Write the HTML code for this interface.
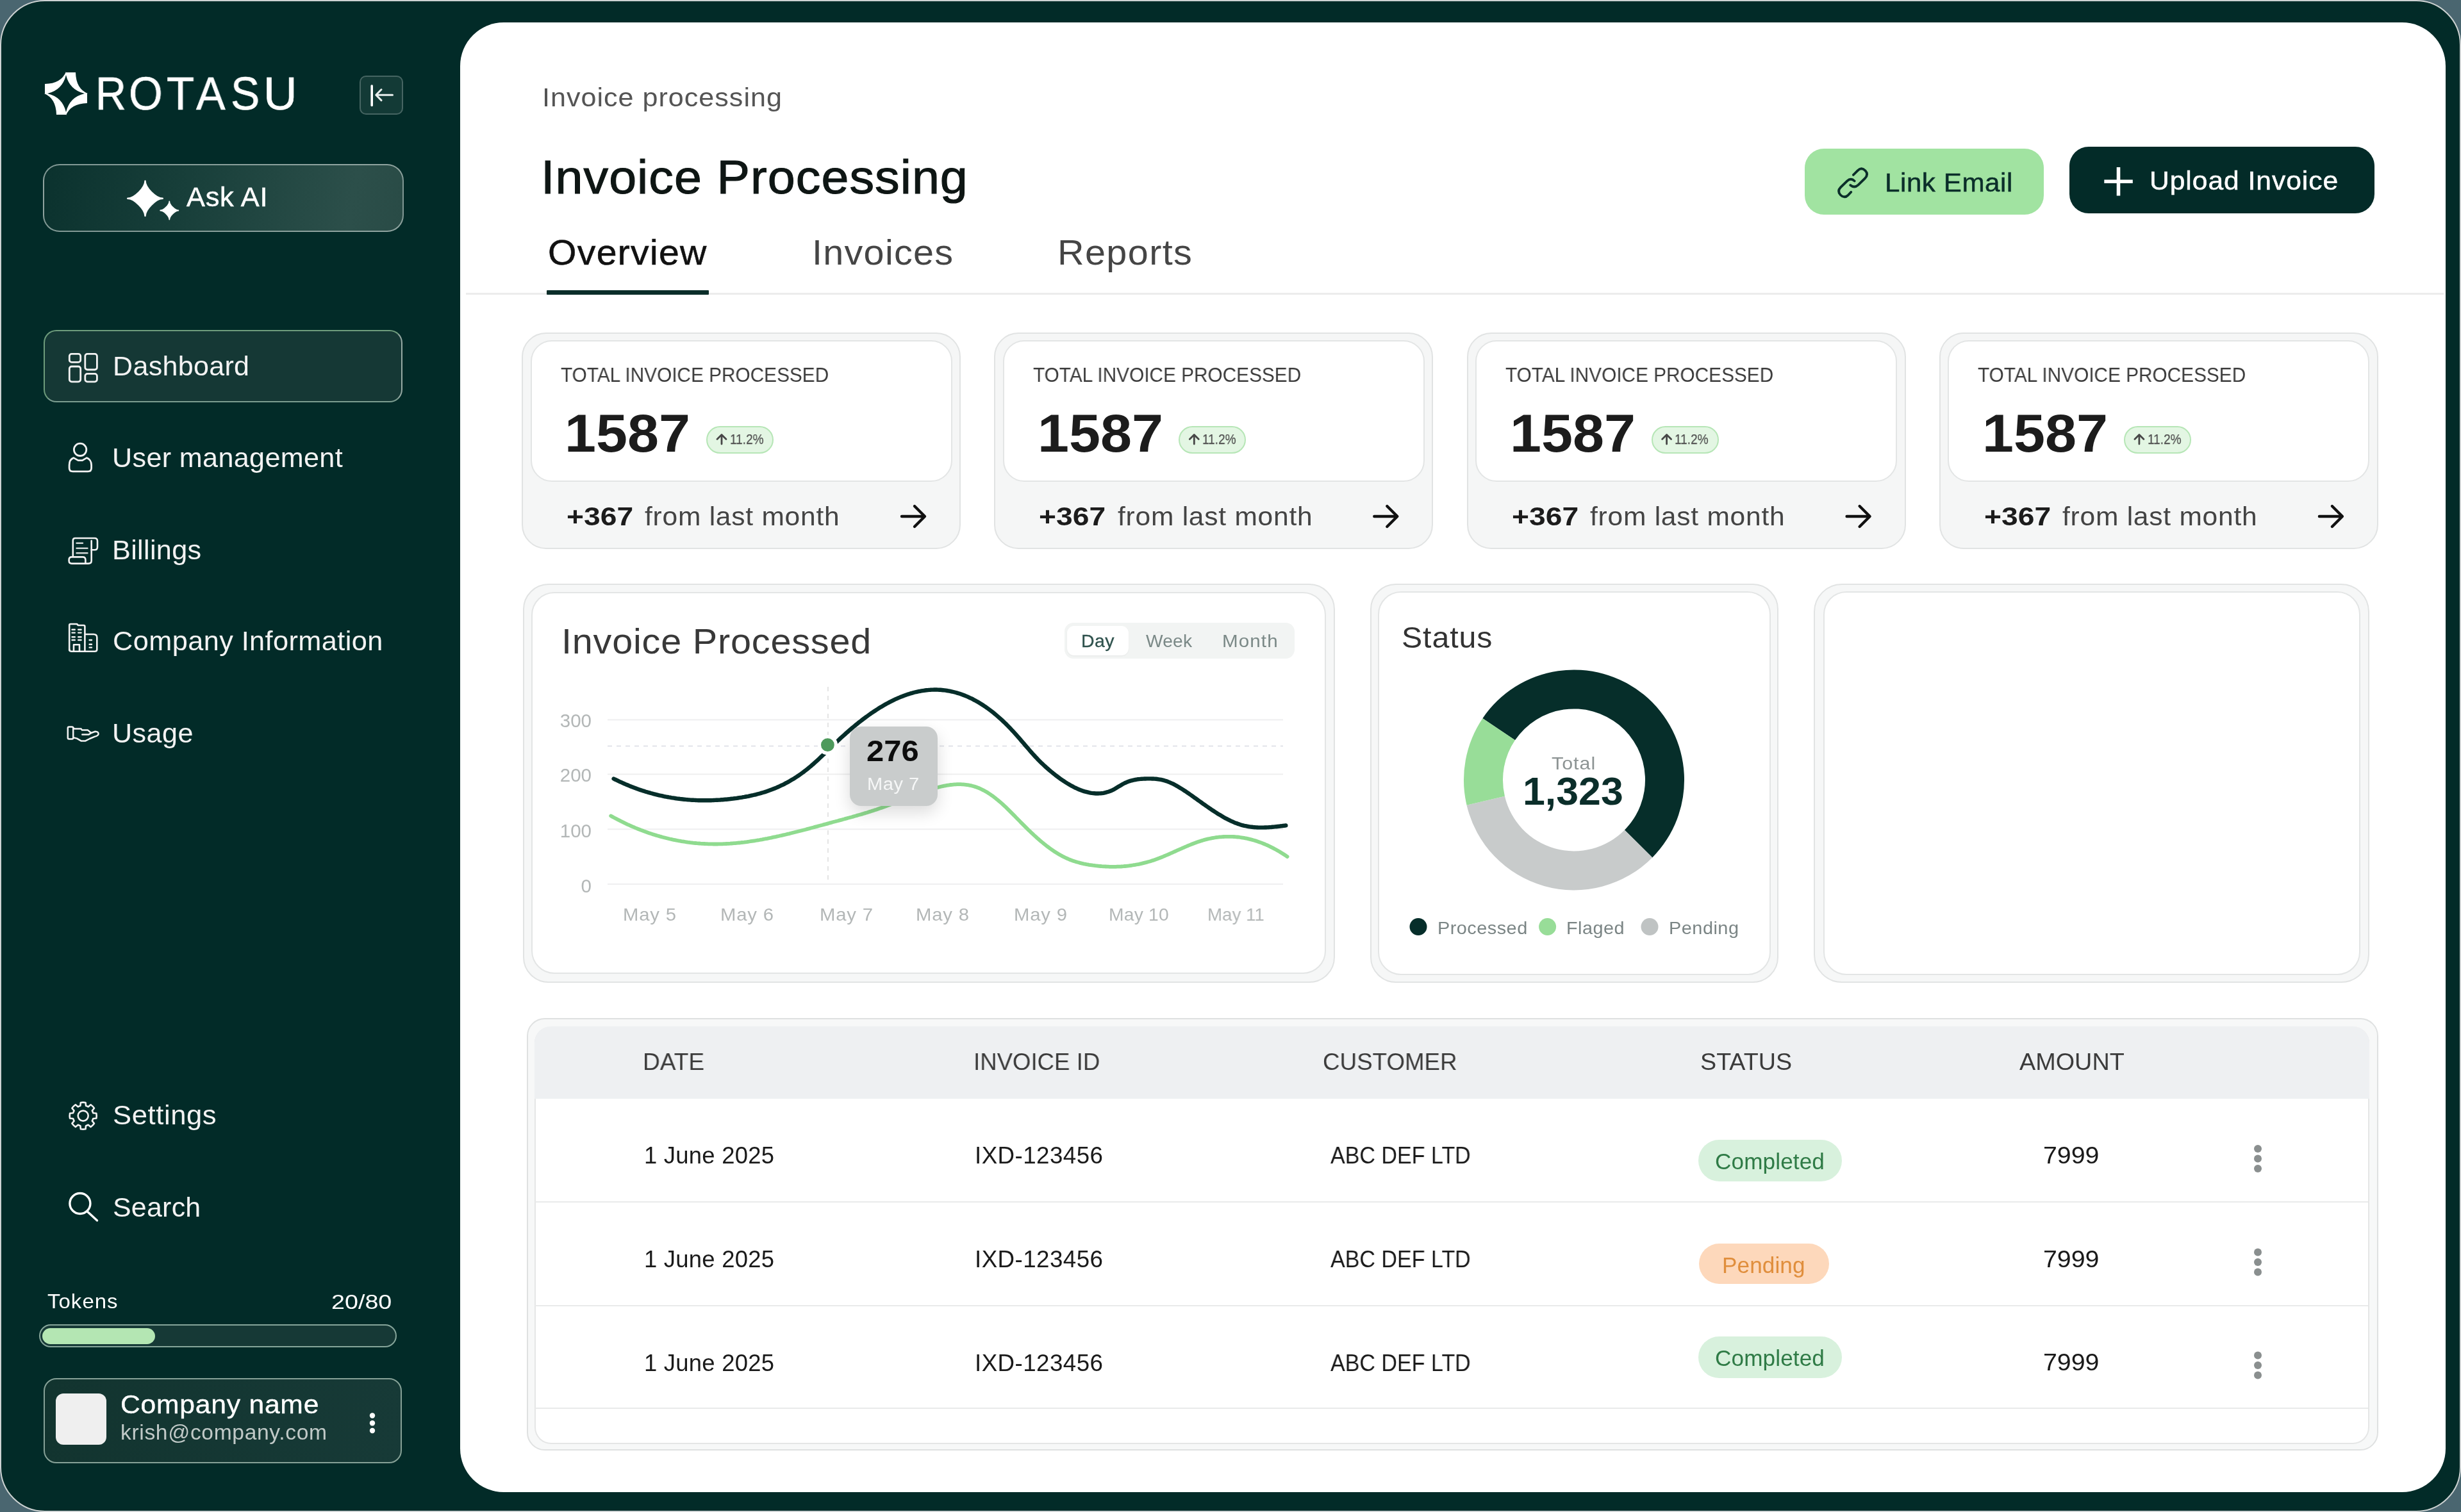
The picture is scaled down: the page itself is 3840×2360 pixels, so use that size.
<!DOCTYPE html>
<html><head><meta charset="utf-8"><style>
*{margin:0;padding:0;box-sizing:border-box}
html,body{width:3840px;height:2360px;overflow:hidden;background:#4a6670;font-family:"Liberation Sans", sans-serif}
div,span,svg{position:absolute}
.t{white-space:nowrap;line-height:1;will-change:transform}
</style></head><body>
<div style="left:0px;top:0px;width:3840px;height:2360px;border-radius:70px;background:#022b28;border:2px solid #cdd2d2"></div>
<div style="left:718px;top:35px;width:3098px;height:2294px;border-radius:68px;background:#fff"></div>
<div style="left:561px;top:118px;width:68px;height:61px;border-radius:10px;background:#133a36;border:2px solid rgba(255,255,255,0.22)"></div>
<div style="left:67px;top:256px;width:563px;height:106px;border-radius:26px;border:2px solid rgba(225,235,232,0.55);background:linear-gradient(100deg,#0b322e 0%,#183f3a 40%,#2c4f4a 85%,#294b46 100%)"></div>
<div style="left:68px;top:515px;width:559.5px;height:113px;border-radius:20px;border:2px solid #7c9d90;border-top-color:#6e9c7c;border-left-color:#6e9c7c;border-right-color:#97aaa4;background:#153835"></div>
<div style="left:61px;top:2067px;width:558px;height:36px;border-radius:18px;border:2.5px solid #86a59a;background:#163936"></div>
<div style="left:65.5px;top:2073px;width:176.5px;height:25px;border-radius:13px;background:#b4e6b3"></div>
<div style="left:68px;top:2151px;width:559px;height:133px;border-radius:20px;border:2.5px solid #86a197;background:linear-gradient(100deg,#12342f,#173a37)"></div>
<div style="left:87px;top:2175px;width:79px;height:80px;border-radius:12px;background:#efefef"></div>
<div style="left:2816px;top:232px;width:373px;height:103px;border-radius:30px;background:#a1e3a1"></div>
<div style="left:3229px;top:229px;width:476px;height:104px;border-radius:30px;background:#032b28"></div>
<div style="left:727px;top:457px;width:3086px;height:3px;background:#ececec"></div>
<div style="left:853px;top:453px;width:253px;height:7px;background:#0b2e2a;border-radius:1px"></div>
<div style="left:814.0px;top:519px;width:685px;height:338px;border-radius:38px;background:#f5f6f6;border:2px solid #e1e3e3"></div>
<div style="left:827.5px;top:530.5px;width:658px;height:221px;border-radius:33px;background:#fff;border:2px solid #e3e5e5"></div>
<div style="left:1102.0px;top:664.5px;width:105px;height:43px;border-radius:22px;background:#e3f6e3;border:2px solid #b6e6b6"></div>
<div style="left:1551.3px;top:519px;width:685px;height:338px;border-radius:38px;background:#f5f6f6;border:2px solid #e1e3e3"></div>
<div style="left:1564.8px;top:530.5px;width:658px;height:221px;border-radius:33px;background:#fff;border:2px solid #e3e5e5"></div>
<div style="left:1839.3px;top:664.5px;width:105px;height:43px;border-radius:22px;background:#e3f6e3;border:2px solid #b6e6b6"></div>
<div style="left:2288.6px;top:519px;width:685px;height:338px;border-radius:38px;background:#f5f6f6;border:2px solid #e1e3e3"></div>
<div style="left:2302.1px;top:530.5px;width:658px;height:221px;border-radius:33px;background:#fff;border:2px solid #e3e5e5"></div>
<div style="left:2576.6px;top:664.5px;width:105px;height:43px;border-radius:22px;background:#e3f6e3;border:2px solid #b6e6b6"></div>
<div style="left:3025.8999999999996px;top:519px;width:685px;height:338px;border-radius:38px;background:#f5f6f6;border:2px solid #e1e3e3"></div>
<div style="left:3039.3999999999996px;top:530.5px;width:658px;height:221px;border-radius:33px;background:#fff;border:2px solid #e3e5e5"></div>
<div style="left:3313.8999999999996px;top:664.5px;width:105px;height:43px;border-radius:22px;background:#e3f6e3;border:2px solid #b6e6b6"></div>
<div style="left:816px;top:911px;width:1267px;height:623px;border-radius:40px;background:#f6f7f7;border:2px solid #e1e3e3"></div>
<div style="left:829px;top:924px;width:1240px;height:596px;border-radius:36px;background:#fff;border:2px solid #e3e5e5"></div>
<div style="left:1661px;top:972px;width:359px;height:56px;border-radius:14px;background:#f2f4f3"></div>
<div style="left:1665px;top:977px;width:96px;height:46px;border-radius:11px;background:#fff;box-shadow:0 1px 2px rgba(0,0,0,0.05)"></div>
<div style="left:2137.5px;top:911px;width:637px;height:623px;border-radius:40px;background:#f6f7f7;border:2px solid #e1e3e3"></div>
<div style="left:2150px;top:923px;width:613px;height:599px;border-radius:36px;background:#fff;border:2px solid #e3e5e5"></div>
<div style="left:2830px;top:911px;width:867px;height:623px;border-radius:44px;background:#f6f7f7;border:2px solid #e1e3e3"></div>
<div style="left:2844.5px;top:923px;width:838.5px;height:599px;border-radius:36px;background:#fff;border:2px solid #e3e5e5"></div>
<div style="left:821.5px;top:1588.5px;width:2889.5px;height:675.5px;border-radius:28px;background:#f7f8f8;border:2px solid #dfe1e1"></div>
<div style="left:833.5px;top:1601.5px;width:2863.5px;height:652.5px;border-radius:26px;background:#fff;border:2px solid #e5e6e6;border-top:none;overflow:hidden"></div>
<div style="left:833.5px;top:1601.5px;width:2863.5px;height:113.5px;border-radius:26px 26px 0 0;background:#eef0f2"></div>
<div style="left:835px;top:1874.5px;width:2860px;height:2px;background:#e9eaea"></div>
<div style="left:835px;top:2036.5px;width:2860px;height:2px;background:#e9eaea"></div>
<div style="left:835px;top:2196.5px;width:2860px;height:2px;background:#e9eaea"></div>
<div style="left:2650px;top:1779px;width:224px;height:65px;border-radius:33px;background:#d8f1dd"></div>
<div style="left:2651px;top:1941px;width:203px;height:63px;border-radius:32px;background:#fdd8bb"></div>
<div style="left:2650px;top:2086px;width:224px;height:65px;border-radius:33px;background:#d8f1dd"></div>
<svg width="3840" height="2360" viewBox="0 0 3840 2360" style="left:0;top:0"><path d="M103.00,113.00 L118.00,113.00 Q118.50,138.50 137.00,146.00 L132.00,146.00 Q108.50,140.50 103.00,117.00 Z M136.00,146.00 L136.00,161.00 Q110.50,161.50 103.00,180.00 L103.00,175.00 Q108.50,151.50 132.00,146.00 Z M103.00,179.00 L88.00,179.00 Q87.50,153.50 69.00,146.00 L74.00,146.00 Q97.50,151.50 103.00,175.00 Z M70.00,146.00 L70.00,131.00 Q95.50,130.50 103.00,112.00 L103.00,117.00 Q97.50,140.50 74.00,146.00 Z" fill="#fff"/><path d="M580.2,134 V164.5" stroke="#fff" stroke-width="3.6" stroke-linecap="round" fill="none"/><path d="M595,139.8 L586.7,148.2 L595,156.6 M587.5,148.3 H612.5" stroke="#e9eeed" stroke-width="3" stroke-linecap="round" stroke-linejoin="round" fill="none"/><path d="M226.5,282.5 C226.5,292.874 243.426,309.8 253.8,309.8 C243.426,309.8 226.5,326.726 226.5,337.1 C226.5,326.726 209.574,309.8 199.2,309.8 C209.574,309.8 226.5,292.874 226.5,282.5 Z" fill="#fff" stroke="#fff" stroke-width="2.4" stroke-linejoin="round"/><path d="M264.3,314.4 C264.3,319.758 273.04200000000003,328.5 278.40000000000003,328.5 C273.04200000000003,328.5 264.3,337.242 264.3,342.6 C264.3,337.242 255.55800000000002,328.5 250.20000000000002,328.5 C255.55800000000002,328.5 264.3,319.758 264.3,314.4 Z" fill="#fff" stroke="#fff" stroke-width="1.8" stroke-linejoin="round"/><rect x="108.3" y="552.4" width="17.4" height="13" rx="3.5" stroke="#f2f2f2" stroke-width="2.8" fill="none"/><rect x="108.3" y="572" width="17.4" height="23.8" rx="3.5" stroke="#f2f2f2" stroke-width="2.8" fill="none"/><rect x="132.8" y="552.4" width="18.6" height="24.6" rx="3.5" stroke="#f2f2f2" stroke-width="2.8" fill="none"/><rect x="132.8" y="583.4" width="18.6" height="12.4" rx="3.5" stroke="#f2f2f2" stroke-width="2.8" fill="none"/><circle cx="125.1" cy="701.8" r="9.7" stroke="#f2f2f2" stroke-width="2.8" fill="none" stroke-linejoin="round"/><path d="M114.9,714.6 L122,718.6 H128.5 L135.3,714.6 C139.5,716 142.6,720.5 142.6,726 V730.5 Q142.6,735.9 137.2,735.9 H113.5 Q108.1,735.9 108.1,730.5 V726 C108.1,720.5 110.8,716 114.9,714.6 Z" stroke="#f2f2f2" stroke-width="2.8" fill="none" stroke-linejoin="round"/><path d="M113.8,868 V843.5 Q113.8,840 117.3,840 H147.5 Q152,840 152,844.5 V854 Q152,858.3 147.7,858.3 H142.7" stroke="#f2f2f2" stroke-width="2.6" fill="none" stroke-linejoin="round" stroke-linecap="round"/><path d="M142.7,844 V875 Q142.7,879.6 138,879.6 H112 Q107.6,879.6 107.6,875 V874 Q107.6,869.4 112,869.4 H129 Q133.4,869.4 133.4,874 V879.6" stroke="#f2f2f2" stroke-width="2.6" fill="none" stroke-linejoin="round" stroke-linecap="round"/><path d="M119.5,847.7 H129 M119.5,855.8 H136.5 M119.5,863.2 H136.5" stroke="#cfd6d4" stroke-width="2.4" stroke-linecap="round"/><path d="M108.2,1015 V976 Q108.2,974 110.2,974 H120 L122,976 H130.5 Q132.4,976 132.4,978 V1016.8" stroke="#f2f2f2" stroke-width="2.6" fill="none" stroke-linejoin="round" stroke-linecap="round"/><path d="M133,990 H146 Q151.3,990 151.3,995 V1013.5 Q151.3,1016.8 148,1016.8 H111.5 Q108.2,1016.8 108.2,1013.5" stroke="#f2f2f2" stroke-width="2.6" fill="none" stroke-linejoin="round" stroke-linecap="round"/><path d="M115,1016.8 V1006.3 H124 V1016.8" stroke="#f2f2f2" stroke-width="2.6" fill="none" stroke-linejoin="round" stroke-linecap="round"/><path d="M112.5,982.8 H116.8 M122.2,982.8 H126.6 M112.5,987.6 H116.8 M122.2,987.6 H126.6 M112.5,994.3 H116.8 M122.2,994.3 H126.6 M112.5,999 H116.8 M122.2,999 H126.6 M139.6,999 H143 M139.6,1005.8 H143 M139.6,1010.6 H143" stroke="#f0f0f0" stroke-width="2.4" stroke-linecap="round"/><rect x="105.8" y="1134.6" width="8.4" height="18.8" rx="2" stroke="#f2f2f2" stroke-width="2.5" fill="none" stroke-linejoin="round" stroke-linecap="round"/><path d="M114.2,1136 L116,1137.4 H126.5 L128,1139.6 H137 L142.3,1144 L148.5,1141.8 Q153.8,1142 153.6,1145.6 Q153.2,1148.4 148,1149.6 L140,1153 L133.4,1156.4 H126.5 L120,1152.6 L114.2,1151.2" stroke="#f2f2f2" stroke-width="2.5" fill="none" stroke-linejoin="round" stroke-linecap="round"/><path d="M128.3,1146.6 H138.3 L142.3,1144" stroke="#f2f2f2" stroke-width="2.5" fill="none" stroke-linejoin="round" stroke-linecap="round"/><path d="M125.37,1725.99 L125.87,1720.95 A21.0,21.0 0 0 1 133.53,1720.95 L134.03,1725.99 A16.2,16.2 0 0 1 137.68,1727.50 L141.59,1724.29 A21.0,21.0 0 0 1 147.01,1729.71 L143.80,1733.62 A16.2,16.2 0 0 1 145.31,1737.27 L150.35,1737.77 A21.0,21.0 0 0 1 150.35,1745.43 L145.31,1745.93 A16.2,16.2 0 0 1 143.80,1749.58 L147.01,1753.49 A21.0,21.0 0 0 1 141.59,1758.91 L137.68,1755.70 A16.2,16.2 0 0 1 134.03,1757.21 L133.53,1762.25 A21.0,21.0 0 0 1 125.87,1762.25 L125.37,1757.21 A16.2,16.2 0 0 1 121.72,1755.70 L117.81,1758.91 A21.0,21.0 0 0 1 112.39,1753.49 L115.60,1749.58 A16.2,16.2 0 0 1 114.09,1745.93 L109.05,1745.43 A21.0,21.0 0 0 1 109.05,1737.77 L114.09,1737.27 A16.2,16.2 0 0 1 115.60,1733.62 L112.39,1729.71 A21.0,21.0 0 0 1 117.81,1724.29 L121.72,1727.50 A16.2,16.2 0 0 1 125.37,1725.99 Z" stroke="#f2f2f2" stroke-width="2.6" fill="none" stroke-linejoin="round"/><circle cx="129.7" cy="1741.6" r="8" stroke="#f2f2f2" stroke-width="2.6" fill="none" stroke-linejoin="round"/><circle cx="124.9" cy="1878.5" r="16" stroke="#fff" stroke-width="3.4" fill="none" stroke-linecap="round"/><path d="M136.5,1891.2 L151.5,1905" stroke="#fff" stroke-width="3.4" fill="none" stroke-linecap="round"/><circle cx="581" cy="2209.5" r="4.2" fill="#fff"/><circle cx="581" cy="2221.3" r="4.2" fill="#fff"/><circle cx="581" cy="2233" r="4.2" fill="#fff"/><path d="M2891.8,273 L2898.5,266.3 Q2904.5,260.3 2910.5,266.3 Q2916,272.3 2910,278.3 L2899.5,288.6 Q2893.5,294.2 2887.2,289" stroke="#0b2e2a" stroke-width="3.8" fill="none" stroke-linecap="round" stroke-linejoin="round"/><path d="M2893.7,282.5 Q2888,277 2882.3,282.3 L2872,292.4 Q2866,298.5 2872,304.5 Q2878,310.3 2884,304.3 L2888.3,299.8" stroke="#0b2e2a" stroke-width="3.8" fill="none" stroke-linecap="round" stroke-linejoin="round"/><path d="M3305.5,261 V305.5 M3283.3,283.3 H3327.8" stroke="#fff" stroke-width="5.6" stroke-linecap="butt"/><path d="M1407.0,806 H1442.0 M1427.0,790 L1443.0,806 L1427.0,822" stroke="#111" stroke-width="4.4" fill="none" stroke-linecap="round" stroke-linejoin="round"/><path d="M2144.3,806 H2179.3 M2164.3,790 L2180.3,806 L2164.3,822" stroke="#111" stroke-width="4.4" fill="none" stroke-linecap="round" stroke-linejoin="round"/><path d="M2881.6,806 H2916.6 M2901.6,790 L2917.6,806 L2901.6,822" stroke="#111" stroke-width="4.4" fill="none" stroke-linecap="round" stroke-linejoin="round"/><path d="M3618.8999999999996,806 H3653.8999999999996 M3638.8999999999996,790 L3654.8999999999996,806 L3638.8999999999996,822" stroke="#111" stroke-width="4.4" fill="none" stroke-linecap="round" stroke-linejoin="round"/><path d="M1126.0,679.5 V693 M1119.0,685.5 L1126.0,678.5 L1133.0,685.5" stroke="#474747" stroke-width="2.8" fill="none" stroke-linecap="round" stroke-linejoin="round"/><path d="M1863.3,679.5 V693 M1856.3,685.5 L1863.3,678.5 L1870.3,685.5" stroke="#474747" stroke-width="2.8" fill="none" stroke-linecap="round" stroke-linejoin="round"/><path d="M2600.6,679.5 V693 M2593.6,685.5 L2600.6,678.5 L2607.6,685.5" stroke="#474747" stroke-width="2.8" fill="none" stroke-linecap="round" stroke-linejoin="round"/><path d="M3337.8999999999996,679.5 V693 M3330.8999999999996,685.5 L3337.8999999999996,678.5 L3344.8999999999996,685.5" stroke="#474747" stroke-width="2.8" fill="none" stroke-linecap="round" stroke-linejoin="round"/><path d="M948,1123.6 H2002" stroke="#efeff0" stroke-width="2"/><path d="M948,1208.6 H2002" stroke="#efeff0" stroke-width="2"/><path d="M948,1294.2 H2002" stroke="#efeff0" stroke-width="2"/><path d="M948,1379.9 H2002" stroke="#efeff0" stroke-width="2"/><path d="M948,1164.6 H2002" stroke="#e2e3ea" stroke-width="2" stroke-dasharray="7 7"/><path d="M1291.9,1072 V1380" stroke="#e4e4e4" stroke-width="2" stroke-dasharray="7 7"/><path d="M953.2,1273.5 L955.2,1274.6 L957.2,1275.7 L959.2,1276.8 L961.2,1277.8 L963.2,1278.9 L965.2,1279.9 L967.2,1280.9 L969.2,1282.0 L971.2,1282.9 L973.2,1283.9 L975.2,1284.9 L977.2,1285.8 L979.2,1286.8 L981.2,1287.7 L983.2,1288.6 L985.2,1289.5 L987.2,1290.3 L989.2,1291.2 L991.2,1292.1 L993.2,1292.9 L995.2,1293.7 L997.2,1294.5 L999.2,1295.3 L1001.2,1296.1 L1003.2,1296.8 L1005.2,1297.6 L1007.2,1298.3 L1009.2,1299.0 L1011.2,1299.7 L1013.2,1300.4 L1015.2,1301.1 L1017.2,1301.7 L1019.2,1302.4 L1021.2,1303.0 L1023.2,1303.6 L1025.2,1304.2 L1027.2,1304.8 L1029.2,1305.4 L1031.2,1305.9 L1033.2,1306.5 L1035.2,1307.0 L1037.2,1307.5 L1039.2,1308.0 L1041.2,1308.5 L1043.2,1309.0 L1045.2,1309.5 L1047.2,1309.9 L1049.2,1310.4 L1051.2,1310.8 L1053.2,1311.2 L1055.2,1311.6 L1057.2,1312.0 L1059.2,1312.4 L1061.2,1312.7 L1063.2,1313.1 L1065.2,1313.4 L1067.2,1313.7 L1069.2,1314.0 L1071.2,1314.3 L1073.2,1314.6 L1075.2,1314.8 L1077.2,1315.1 L1079.2,1315.3 L1081.2,1315.6 L1083.2,1315.8 L1085.2,1316.0 L1087.2,1316.2 L1089.2,1316.3 L1091.2,1316.5 L1093.2,1316.7 L1095.2,1316.8 L1097.2,1316.9 L1099.2,1317.0 L1101.2,1317.1 L1103.2,1317.2 L1105.2,1317.3 L1107.2,1317.4 L1109.2,1317.4 L1111.2,1317.4 L1113.2,1317.5 L1115.2,1317.5 L1117.2,1317.5 L1119.2,1317.5 L1121.2,1317.4 L1123.2,1317.4 L1125.2,1317.4 L1127.2,1317.3 L1129.2,1317.2 L1131.2,1317.1 L1133.2,1317.0 L1135.2,1316.9 L1137.2,1316.8 L1139.2,1316.7 L1141.2,1316.5 L1143.2,1316.4 L1145.2,1316.2 L1147.2,1316.1 L1149.2,1315.9 L1151.2,1315.7 L1153.2,1315.5 L1155.2,1315.3 L1157.2,1315.0 L1159.2,1314.8 L1161.2,1314.6 L1163.2,1314.3 L1165.2,1314.1 L1167.2,1313.8 L1169.2,1313.5 L1171.2,1313.2 L1173.2,1312.9 L1175.2,1312.6 L1177.2,1312.3 L1179.2,1312.0 L1181.2,1311.7 L1183.2,1311.3 L1185.2,1311.0 L1187.2,1310.6 L1189.2,1310.3 L1191.2,1309.9 L1193.2,1309.5 L1195.2,1309.1 L1197.2,1308.8 L1199.2,1308.4 L1201.2,1308.0 L1203.2,1307.6 L1205.2,1307.1 L1207.2,1306.7 L1209.2,1306.3 L1211.2,1305.9 L1213.2,1305.4 L1215.2,1305.0 L1217.2,1304.5 L1219.2,1304.1 L1221.2,1303.6 L1223.2,1303.2 L1225.2,1302.7 L1227.2,1302.2 L1229.2,1301.7 L1231.2,1301.3 L1233.2,1300.8 L1235.2,1300.3 L1237.2,1299.8 L1239.2,1299.3 L1241.2,1298.8 L1243.2,1298.3 L1245.2,1297.8 L1247.2,1297.3 L1249.2,1296.8 L1251.2,1296.2 L1253.2,1295.7 L1255.2,1295.2 L1257.2,1294.7 L1259.2,1294.1 L1261.2,1293.6 L1263.2,1293.1 L1265.2,1292.5 L1267.2,1292.0 L1269.2,1291.5 L1271.2,1290.9 L1273.2,1290.4 L1275.2,1289.9 L1277.2,1289.3 L1279.2,1288.8 L1281.2,1288.2 L1283.2,1287.7 L1285.2,1287.1 L1287.2,1286.6 L1289.2,1286.1 L1291.2,1285.5 L1293.2,1285.0 L1295.2,1284.4 L1297.2,1283.9 L1299.2,1283.3 L1301.2,1282.8 L1303.2,1282.3 L1305.2,1281.7 L1307.2,1281.2 L1309.2,1280.6 L1311.2,1280.1 L1313.2,1279.6 L1315.2,1279.0 L1317.2,1278.5 L1319.2,1277.9 L1321.2,1277.4 L1323.2,1276.8 L1325.2,1276.3 L1327.2,1275.7 L1329.2,1275.2 L1331.2,1274.6 L1333.2,1274.0 L1335.2,1273.5 L1337.2,1272.9 L1339.2,1272.3 L1341.2,1271.8 L1343.2,1271.2 L1345.2,1270.6 L1347.2,1270.0 L1349.2,1269.4 L1351.2,1268.8 L1353.2,1268.2 L1355.2,1267.5 L1357.2,1266.9 L1359.2,1266.3 L1361.2,1265.6 L1363.2,1265.0 L1365.2,1264.3 L1367.2,1263.7 L1369.2,1263.0 L1371.2,1262.3 L1373.2,1261.6 L1375.2,1260.9 L1377.2,1260.2 L1379.2,1259.5 L1381.2,1258.8 L1383.2,1258.0 L1385.2,1257.3 L1387.2,1256.6 L1389.2,1255.8 L1391.2,1255.0 L1393.2,1254.2 L1395.2,1253.5 L1397.2,1252.7 L1399.2,1251.9 L1401.2,1251.1 L1403.2,1250.3 L1405.2,1249.5 L1407.2,1248.7 L1409.2,1247.9 L1411.2,1247.1 L1413.2,1246.3 L1415.2,1245.5 L1417.2,1244.8 L1419.2,1244.0 L1421.2,1243.2 L1423.2,1242.4 L1425.2,1241.6 L1427.2,1240.9 L1429.2,1240.1 L1431.2,1239.4 L1433.2,1238.6 L1435.2,1237.9 L1437.2,1237.2 L1439.2,1236.5 L1441.2,1235.8 L1443.2,1235.1 L1445.2,1234.4 L1447.2,1233.7 L1449.2,1233.1 L1451.2,1232.4 L1453.2,1231.8 L1455.2,1231.2 L1457.2,1230.6 L1459.2,1230.1 L1461.2,1229.5 L1463.2,1229.0 L1465.2,1228.5 L1467.2,1228.0 L1469.2,1227.5 L1471.2,1227.1 L1473.2,1226.7 L1475.2,1226.3 L1477.2,1225.9 L1479.2,1225.6 L1481.2,1225.3 L1483.2,1225.0 L1485.2,1224.8 L1487.2,1224.6 L1489.2,1224.4 L1491.2,1224.3 L1493.2,1224.2 L1495.2,1224.1 L1497.2,1224.1 L1499.2,1224.2 L1501.2,1224.3 L1503.2,1224.4 L1505.2,1224.6 L1507.2,1224.8 L1509.2,1225.1 L1511.2,1225.4 L1513.2,1225.8 L1515.2,1226.2 L1517.2,1226.7 L1519.2,1227.3 L1521.2,1227.9 L1523.2,1228.5 L1525.2,1229.3 L1527.2,1230.0 L1529.2,1230.9 L1531.2,1231.8 L1533.2,1232.8 L1535.2,1233.8 L1537.2,1234.9 L1539.2,1236.1 L1541.2,1237.3 L1543.2,1238.6 L1545.2,1239.9 L1547.2,1241.3 L1549.2,1242.7 L1551.2,1244.2 L1553.2,1245.8 L1555.2,1247.4 L1557.2,1249.0 L1559.2,1250.7 L1561.2,1252.4 L1563.2,1254.2 L1565.2,1256.0 L1567.2,1257.8 L1569.2,1259.7 L1571.2,1261.6 L1573.2,1263.6 L1575.2,1265.6 L1577.2,1267.6 L1579.2,1269.6 L1581.2,1271.6 L1583.2,1273.6 L1585.2,1275.7 L1587.2,1277.7 L1589.2,1279.8 L1591.2,1281.8 L1593.2,1283.9 L1595.2,1285.9 L1597.2,1287.9 L1599.2,1289.9 L1601.2,1291.9 L1603.2,1293.9 L1605.2,1295.8 L1607.2,1297.7 L1609.2,1299.7 L1611.2,1301.5 L1613.2,1303.4 L1615.2,1305.2 L1617.2,1307.0 L1619.2,1308.8 L1621.2,1310.5 L1623.2,1312.3 L1625.2,1313.9 L1627.2,1315.6 L1629.2,1317.2 L1631.2,1318.8 L1633.2,1320.4 L1635.2,1321.9 L1637.2,1323.4 L1639.2,1324.8 L1641.2,1326.3 L1643.2,1327.6 L1645.2,1329.0 L1647.2,1330.3 L1649.2,1331.5 L1651.2,1332.7 L1653.2,1333.9 L1655.2,1335.0 L1657.2,1336.1 L1659.2,1337.2 L1661.2,1338.2 L1663.2,1339.1 L1665.2,1340.0 L1667.2,1340.9 L1669.2,1341.7 L1671.2,1342.5 L1673.2,1343.2 L1675.2,1343.9 L1677.2,1344.6 L1679.2,1345.2 L1681.2,1345.8 L1683.2,1346.3 L1685.2,1346.9 L1687.2,1347.4 L1689.2,1347.8 L1691.2,1348.3 L1693.2,1348.7 L1695.2,1349.1 L1697.2,1349.4 L1699.2,1349.8 L1701.2,1350.1 L1703.2,1350.4 L1705.2,1350.7 L1707.2,1350.9 L1709.2,1351.2 L1711.2,1351.4 L1713.2,1351.6 L1715.2,1351.8 L1717.2,1352.0 L1719.2,1352.2 L1721.2,1352.3 L1723.2,1352.4 L1725.2,1352.5 L1727.2,1352.6 L1729.2,1352.7 L1731.2,1352.8 L1733.2,1352.8 L1735.2,1352.8 L1737.2,1352.8 L1739.2,1352.8 L1741.2,1352.8 L1743.2,1352.7 L1745.2,1352.7 L1747.2,1352.6 L1749.2,1352.5 L1751.2,1352.3 L1753.2,1352.2 L1755.2,1352.0 L1757.2,1351.8 L1759.2,1351.6 L1761.2,1351.4 L1763.2,1351.1 L1765.2,1350.8 L1767.2,1350.5 L1769.2,1350.2 L1771.2,1349.9 L1773.2,1349.5 L1775.2,1349.2 L1777.2,1348.8 L1779.2,1348.3 L1781.2,1347.9 L1783.2,1347.4 L1785.2,1346.9 L1787.2,1346.4 L1789.2,1345.9 L1791.2,1345.3 L1793.2,1344.8 L1795.2,1344.2 L1797.2,1343.5 L1799.2,1342.9 L1801.2,1342.2 L1803.2,1341.5 L1805.2,1340.8 L1807.2,1340.0 L1809.2,1339.3 L1811.2,1338.5 L1813.2,1337.7 L1815.2,1336.9 L1817.2,1336.0 L1819.2,1335.2 L1821.2,1334.3 L1823.2,1333.5 L1825.2,1332.6 L1827.2,1331.7 L1829.2,1330.8 L1831.2,1329.9 L1833.2,1329.0 L1835.2,1328.1 L1837.2,1327.2 L1839.2,1326.3 L1841.2,1325.4 L1843.2,1324.6 L1845.2,1323.7 L1847.2,1322.8 L1849.2,1321.9 L1851.2,1321.1 L1853.2,1320.2 L1855.2,1319.4 L1857.2,1318.6 L1859.2,1317.8 L1861.2,1317.0 L1863.2,1316.2 L1865.2,1315.5 L1867.2,1314.7 L1869.2,1314.0 L1871.2,1313.4 L1873.2,1312.7 L1875.2,1312.1 L1877.2,1311.5 L1879.2,1310.9 L1881.2,1310.4 L1883.2,1309.9 L1885.2,1309.4 L1887.2,1309.0 L1889.2,1308.6 L1891.2,1308.2 L1893.2,1307.8 L1895.2,1307.5 L1897.2,1307.2 L1899.2,1306.9 L1901.2,1306.7 L1903.2,1306.4 L1905.2,1306.3 L1907.2,1306.1 L1909.2,1306.0 L1911.2,1305.9 L1913.2,1305.8 L1915.2,1305.8 L1917.2,1305.8 L1919.2,1305.8 L1921.2,1305.8 L1923.2,1305.9 L1925.2,1306.0 L1927.2,1306.1 L1929.2,1306.3 L1931.2,1306.5 L1933.2,1306.7 L1935.2,1307.0 L1937.2,1307.3 L1939.2,1307.6 L1941.2,1307.9 L1943.2,1308.3 L1945.2,1308.7 L1947.2,1309.1 L1949.2,1309.6 L1951.2,1310.1 L1953.2,1310.6 L1955.2,1311.2 L1957.2,1311.8 L1959.2,1312.4 L1961.2,1313.0 L1963.2,1313.7 L1965.2,1314.4 L1967.2,1315.1 L1969.2,1315.9 L1971.2,1316.7 L1973.2,1317.5 L1975.2,1318.4 L1977.2,1319.2 L1979.2,1320.2 L1981.2,1321.1 L1983.2,1322.1 L1985.2,1323.1 L1987.2,1324.1 L1989.2,1325.2 L1991.2,1326.3 L1993.2,1327.4 L1995.2,1328.6 L1997.2,1329.7 L1999.2,1331.0 L2001.2,1332.2 L2003.2,1333.5 L2005.2,1334.8 L2007.2,1336.1 L2008.6,1337.1" stroke="#8fdb8f" stroke-width="5.8" fill="none" stroke-linecap="round"/><path d="M957.6,1215.5 L959.6,1216.5 L961.6,1217.4 L963.6,1218.4 L965.6,1219.4 L967.6,1220.3 L969.6,1221.2 L971.6,1222.1 L973.6,1223.0 L975.6,1223.9 L977.6,1224.7 L979.6,1225.5 L981.6,1226.4 L983.6,1227.2 L985.6,1228.0 L987.6,1228.7 L989.6,1229.5 L991.6,1230.2 L993.6,1231.0 L995.6,1231.7 L997.6,1232.4 L999.6,1233.1 L1001.6,1233.7 L1003.6,1234.4 L1005.6,1235.0 L1007.6,1235.7 L1009.6,1236.3 L1011.6,1236.9 L1013.6,1237.4 L1015.6,1238.0 L1017.6,1238.5 L1019.6,1239.1 L1021.6,1239.6 L1023.6,1240.1 L1025.6,1240.6 L1027.6,1241.1 L1029.6,1241.5 L1031.6,1242.0 L1033.6,1242.4 L1035.6,1242.9 L1037.6,1243.3 L1039.6,1243.7 L1041.6,1244.0 L1043.6,1244.4 L1045.6,1244.7 L1047.6,1245.1 L1049.6,1245.4 L1051.6,1245.7 L1053.6,1246.0 L1055.6,1246.3 L1057.6,1246.6 L1059.6,1246.8 L1061.6,1247.1 L1063.6,1247.3 L1065.6,1247.5 L1067.6,1247.7 L1069.6,1247.9 L1071.6,1248.1 L1073.6,1248.3 L1075.6,1248.4 L1077.6,1248.6 L1079.6,1248.7 L1081.6,1248.8 L1083.6,1248.9 L1085.6,1249.0 L1087.6,1249.1 L1089.6,1249.2 L1091.6,1249.2 L1093.6,1249.3 L1095.6,1249.3 L1097.6,1249.3 L1099.6,1249.3 L1101.6,1249.3 L1103.6,1249.3 L1105.6,1249.3 L1107.6,1249.2 L1109.6,1249.2 L1111.6,1249.1 L1113.6,1249.0 L1115.6,1248.9 L1117.6,1248.8 L1119.6,1248.7 L1121.6,1248.6 L1123.6,1248.5 L1125.6,1248.3 L1127.6,1248.2 L1129.6,1248.0 L1131.6,1247.8 L1133.6,1247.7 L1135.6,1247.5 L1137.6,1247.3 L1139.6,1247.0 L1141.6,1246.8 L1143.6,1246.6 L1145.6,1246.3 L1147.6,1246.1 L1149.6,1245.8 L1151.6,1245.5 L1153.6,1245.2 L1155.6,1244.9 L1157.6,1244.6 L1159.6,1244.2 L1161.6,1243.9 L1163.6,1243.5 L1165.6,1243.1 L1167.6,1242.8 L1169.6,1242.3 L1171.6,1241.9 L1173.6,1241.5 L1175.6,1241.0 L1177.6,1240.5 L1179.6,1240.1 L1181.6,1239.5 L1183.6,1239.0 L1185.6,1238.5 L1187.6,1237.9 L1189.6,1237.3 L1191.6,1236.7 L1193.6,1236.1 L1195.6,1235.4 L1197.6,1234.7 L1199.6,1234.0 L1201.6,1233.3 L1203.6,1232.6 L1205.6,1231.8 L1207.6,1231.0 L1209.6,1230.2 L1211.6,1229.4 L1213.6,1228.5 L1215.6,1227.6 L1217.6,1226.7 L1219.6,1225.7 L1221.6,1224.8 L1223.6,1223.8 L1225.6,1222.7 L1227.6,1221.7 L1229.6,1220.6 L1231.6,1219.5 L1233.6,1218.3 L1235.6,1217.1 L1237.6,1215.9 L1239.6,1214.7 L1241.6,1213.4 L1243.6,1212.1 L1245.6,1210.8 L1247.6,1209.4 L1249.6,1208.0 L1251.6,1206.5 L1253.6,1205.1 L1255.6,1203.5 L1257.6,1202.0 L1259.6,1200.4 L1261.6,1198.8 L1263.6,1197.1 L1265.6,1195.5 L1267.6,1193.7 L1269.6,1192.0 L1271.6,1190.2 L1273.6,1188.4 L1275.6,1186.6 L1277.6,1184.7 L1279.6,1182.8 L1281.6,1180.9 L1283.6,1179.0 L1285.6,1177.1 L1287.6,1175.2 L1289.6,1173.3 L1291.6,1171.3 L1293.6,1169.4 L1295.6,1167.5 L1297.6,1165.5 L1299.6,1163.6 L1301.6,1161.7 L1303.6,1159.8 L1305.6,1157.9 L1307.6,1156.0 L1309.6,1154.1 L1311.6,1152.2 L1313.6,1150.4 L1315.6,1148.6 L1317.6,1146.8 L1319.6,1145.0 L1321.6,1143.2 L1323.6,1141.5 L1325.6,1139.7 L1327.6,1138.0 L1329.6,1136.3 L1331.6,1134.6 L1333.6,1133.0 L1335.6,1131.3 L1337.6,1129.7 L1339.6,1128.1 L1341.6,1126.5 L1343.6,1125.0 L1345.6,1123.4 L1347.6,1121.9 L1349.6,1120.4 L1351.6,1118.9 L1353.6,1117.5 L1355.6,1116.0 L1357.6,1114.6 L1359.6,1113.2 L1361.6,1111.8 L1363.6,1110.5 L1365.6,1109.2 L1367.6,1107.9 L1369.6,1106.6 L1371.6,1105.3 L1373.6,1104.1 L1375.6,1102.9 L1377.6,1101.7 L1379.6,1100.5 L1381.6,1099.4 L1383.6,1098.3 L1385.6,1097.2 L1387.6,1096.1 L1389.6,1095.1 L1391.6,1094.1 L1393.6,1093.1 L1395.6,1092.1 L1397.6,1091.2 L1399.6,1090.3 L1401.6,1089.4 L1403.6,1088.6 L1405.6,1087.7 L1407.6,1087.0 L1409.6,1086.2 L1411.6,1085.4 L1413.6,1084.7 L1415.6,1084.0 L1417.6,1083.4 L1419.6,1082.7 L1421.6,1082.1 L1423.6,1081.6 L1425.6,1081.0 L1427.6,1080.5 L1429.6,1080.0 L1431.6,1079.6 L1433.6,1079.2 L1435.6,1078.8 L1437.6,1078.4 L1439.6,1078.1 L1441.6,1077.8 L1443.6,1077.5 L1445.6,1077.3 L1447.6,1077.1 L1449.6,1076.9 L1451.6,1076.8 L1453.6,1076.6 L1455.6,1076.6 L1457.6,1076.5 L1459.6,1076.5 L1461.6,1076.5 L1463.6,1076.6 L1465.6,1076.7 L1467.6,1076.8 L1469.6,1077.0 L1471.6,1077.2 L1473.6,1077.4 L1475.6,1077.7 L1477.6,1078.0 L1479.6,1078.3 L1481.6,1078.7 L1483.6,1079.1 L1485.6,1079.5 L1487.6,1080.0 L1489.6,1080.5 L1491.6,1081.0 L1493.6,1081.6 L1495.6,1082.2 L1497.6,1082.8 L1499.6,1083.5 L1501.6,1084.2 L1503.6,1085.0 L1505.6,1085.8 L1507.6,1086.6 L1509.6,1087.4 L1511.6,1088.3 L1513.6,1089.3 L1515.6,1090.2 L1517.6,1091.2 L1519.6,1092.3 L1521.6,1093.3 L1523.6,1094.4 L1525.6,1095.6 L1527.6,1096.8 L1529.6,1098.0 L1531.6,1099.2 L1533.6,1100.5 L1535.6,1101.8 L1537.6,1103.2 L1539.6,1104.6 L1541.6,1106.0 L1543.6,1107.5 L1545.6,1109.0 L1547.6,1110.5 L1549.6,1112.1 L1551.6,1113.7 L1553.6,1115.4 L1555.6,1117.1 L1557.6,1118.8 L1559.6,1120.6 L1561.6,1122.4 L1563.6,1124.2 L1565.6,1126.1 L1567.6,1128.0 L1569.6,1129.9 L1571.6,1131.9 L1573.6,1134.0 L1575.6,1136.0 L1577.6,1138.1 L1579.6,1140.3 L1581.6,1142.4 L1583.6,1144.6 L1585.6,1146.9 L1587.6,1149.1 L1589.6,1151.4 L1591.6,1153.7 L1593.6,1156.1 L1595.6,1158.4 L1597.6,1160.7 L1599.6,1163.1 L1601.6,1165.4 L1603.6,1167.7 L1605.6,1170.0 L1607.6,1172.3 L1609.6,1174.6 L1611.6,1176.8 L1613.6,1179.0 L1615.6,1181.2 L1617.6,1183.3 L1619.6,1185.4 L1621.6,1187.4 L1623.6,1189.4 L1625.6,1191.4 L1627.6,1193.3 L1629.6,1195.2 L1631.6,1197.0 L1633.6,1198.8 L1635.6,1200.5 L1637.6,1202.3 L1639.6,1203.9 L1641.6,1205.6 L1643.6,1207.2 L1645.6,1208.8 L1647.6,1210.4 L1649.6,1211.9 L1651.6,1213.4 L1653.6,1214.9 L1655.6,1216.3 L1657.6,1217.7 L1659.6,1219.0 L1661.6,1220.4 L1663.6,1221.6 L1665.6,1222.9 L1667.6,1224.1 L1669.6,1225.3 L1671.6,1226.4 L1673.6,1227.4 L1675.6,1228.5 L1677.6,1229.5 L1679.6,1230.4 L1681.6,1231.3 L1683.6,1232.2 L1685.6,1233.0 L1687.6,1233.7 L1689.6,1234.4 L1691.6,1235.1 L1693.6,1235.7 L1695.6,1236.2 L1697.6,1236.7 L1699.6,1237.2 L1701.6,1237.6 L1703.6,1237.9 L1705.6,1238.1 L1707.6,1238.3 L1709.6,1238.5 L1711.6,1238.5 L1713.6,1238.5 L1715.6,1238.4 L1717.6,1238.3 L1719.6,1238.1 L1721.6,1237.8 L1723.6,1237.4 L1725.6,1236.9 L1727.6,1236.3 L1729.6,1235.7 L1731.6,1235.0 L1733.6,1234.2 L1735.6,1233.3 L1737.6,1232.3 L1739.6,1231.2 L1741.6,1230.0 L1743.6,1228.8 L1745.6,1227.6 L1747.6,1226.4 L1749.6,1225.2 L1751.6,1224.0 L1753.6,1223.0 L1755.6,1222.0 L1757.6,1221.1 L1759.6,1220.3 L1761.6,1219.6 L1763.6,1218.9 L1765.6,1218.3 L1767.6,1217.8 L1769.6,1217.4 L1771.6,1217.0 L1773.6,1216.6 L1775.6,1216.3 L1777.6,1216.1 L1779.6,1215.9 L1781.6,1215.7 L1783.6,1215.6 L1785.6,1215.5 L1787.6,1215.5 L1789.6,1215.4 L1791.6,1215.4 L1793.6,1215.4 L1795.6,1215.4 L1797.6,1215.5 L1799.6,1215.5 L1801.6,1215.6 L1803.6,1215.8 L1805.6,1216.0 L1807.6,1216.3 L1809.6,1216.6 L1811.6,1216.9 L1813.6,1217.4 L1815.6,1217.9 L1817.6,1218.5 L1819.6,1219.1 L1821.6,1219.8 L1823.6,1220.6 L1825.6,1221.4 L1827.6,1222.3 L1829.6,1223.2 L1831.6,1224.2 L1833.6,1225.3 L1835.6,1226.4 L1837.6,1227.5 L1839.6,1228.7 L1841.6,1229.9 L1843.6,1231.1 L1845.6,1232.4 L1847.6,1233.7 L1849.6,1235.0 L1851.6,1236.4 L1853.6,1237.7 L1855.6,1239.1 L1857.6,1240.5 L1859.6,1241.9 L1861.6,1243.3 L1863.6,1244.8 L1865.6,1246.2 L1867.6,1247.6 L1869.6,1249.1 L1871.6,1250.5 L1873.6,1251.9 L1875.6,1253.4 L1877.6,1254.8 L1879.6,1256.2 L1881.6,1257.6 L1883.6,1259.0 L1885.6,1260.4 L1887.6,1261.8 L1889.6,1263.1 L1891.6,1264.5 L1893.6,1265.8 L1895.6,1267.1 L1897.6,1268.4 L1899.6,1269.7 L1901.6,1270.9 L1903.6,1272.1 L1905.6,1273.3 L1907.6,1274.5 L1909.6,1275.7 L1911.6,1276.8 L1913.6,1277.8 L1915.6,1278.9 L1917.6,1279.9 L1919.6,1280.9 L1921.6,1281.8 L1923.6,1282.7 L1925.6,1283.6 L1927.6,1284.4 L1929.6,1285.1 L1931.6,1285.9 L1933.6,1286.5 L1935.6,1287.2 L1937.6,1287.8 L1939.6,1288.3 L1941.6,1288.8 L1943.6,1289.2 L1945.6,1289.6 L1947.6,1290.0 L1949.6,1290.3 L1951.6,1290.6 L1953.6,1290.8 L1955.6,1291.1 L1957.6,1291.2 L1959.6,1291.4 L1961.6,1291.5 L1963.6,1291.6 L1965.6,1291.6 L1967.6,1291.6 L1969.6,1291.6 L1971.6,1291.6 L1973.6,1291.5 L1975.6,1291.5 L1977.6,1291.4 L1979.6,1291.3 L1981.6,1291.1 L1983.6,1291.0 L1985.6,1290.8 L1987.6,1290.6 L1989.6,1290.4 L1991.6,1290.2 L1993.6,1290.0 L1995.6,1289.8 L1997.6,1289.5 L1999.6,1289.3 L2001.6,1289.0 L2003.6,1288.8 L2005.6,1288.5 L2006.3,1288.4" stroke="#062e2a" stroke-width="6.4" fill="none" stroke-linecap="round"/><circle cx="1291.4" cy="1162.7" r="13" fill="#4e9a5c" stroke="#fff" stroke-width="5.2"/><path d="M2313.41,1121.22 A172,172 0 1 1 2578.26,1338.38 L2534.90,1295.48 A111,111 0 1 0 2363.98,1155.33 Z" fill="#062e2a"/><path d="M2578.26,1338.38 A172,172 0 0 1 2288.54,1256.68 L2347.93,1242.75 A111,111 0 0 0 2534.90,1295.48 Z" fill="#c8cbcb"/><path d="M2288.54,1256.68 A172,172 0 0 1 2313.41,1121.22 L2363.98,1155.33 A111,111 0 0 0 2347.93,1242.75 Z" fill="#98dd98"/><circle cx="2213" cy="1446.5" r="13.5" fill="#062e2a"/><circle cx="2414.6" cy="1446.5" r="13.5" fill="#98dd98"/><circle cx="2574" cy="1446.5" r="13.5" fill="#bfc3c3"/><circle cx="3523" cy="1793.0" r="6" fill="#8a8f8f"/><circle cx="3523" cy="1808.5" r="6" fill="#8a8f8f"/><circle cx="3523" cy="1824.0" r="6" fill="#8a8f8f"/><circle cx="3523" cy="1954.5" r="6" fill="#8a8f8f"/><circle cx="3523" cy="1970" r="6" fill="#8a8f8f"/><circle cx="3523" cy="1985.5" r="6" fill="#8a8f8f"/><circle cx="3523" cy="2115.5" r="6" fill="#8a8f8f"/><circle cx="3523" cy="2131" r="6" fill="#8a8f8f"/><circle cx="3523" cy="2146.5" r="6" fill="#8a8f8f"/></svg>
<div style="left:1326px;top:1134px;width:137px;height:123.5px;border-radius:18px;background:#c9cccc;box-shadow:0 10px 26px rgba(0,0,0,0.14)"></div>
<span class="t" style="left:148.9390243902439px;top:110.78px;font-size:71.5px;color:#ffffff;-webkit-text-stroke:0.6px #fff;transform:scaleX(0.9268);transform-origin:0 0">R</span>
<span class="t" style="left:201.20833333333334px;top:110.78px;font-size:71.5px;color:#ffffff;-webkit-text-stroke:0.6px #fff;transform:scaleX(0.9479);transform-origin:0 0">O</span>
<span class="t" style="left:259.525px;top:110.78px;font-size:71.5px;color:#ffffff;-webkit-text-stroke:0.6px #fff;transform:scaleX(0.9875);transform-origin:0 0">T</span>
<span class="t" style="left:306.04347826086956px;top:110.78px;font-size:71.5px;color:#ffffff;-webkit-text-stroke:0.6px #fff;transform:scaleX(0.9565);transform-origin:0 0">A</span>
<span class="t" style="left:360.01px;top:110.78px;font-size:71.5px;color:#ffffff;-webkit-text-stroke:0.6px #fff;transform:scaleX(0.9475);transform-origin:0 0">S</span>
<span class="t" style="left:410.895px;top:110.78px;font-size:71.5px;color:#ffffff;-webkit-text-stroke:0.6px #fff;transform:scaleX(1.0175);transform-origin:0 0">U</span>
<span class="t" style="left:291.46798245614036px;top:287.15px;font-size:42px;color:#ffffff;letter-spacing:0.707px;-webkit-text-stroke:0.5px #fff;transform:scaleX(1.0320);transform-origin:0 0">Ask AI</span>
<span class="t" style="left:176.4628712871287px;top:551.22px;font-size:42.5px;color:#f3f3f3;letter-spacing:0.309px;;transform:scaleX(1.0124);transform-origin:0 0">Dashboard</span>
<span class="t" style="left:175.45664739884393px;top:694.02px;font-size:42.5px;color:#f3f3f3;letter-spacing:0.352px;;transform:scaleX(1.0145);transform-origin:0 0">User management</span>
<span class="t" style="left:175.4480769230769px;top:838.02px;font-size:42.5px;color:#f3f3f3;letter-spacing:0.316px;;transform:scaleX(1.0173);transform-origin:0 0">Billings</span>
<span class="t" style="left:176.46268656716418px;top:980.02px;font-size:42.5px;color:#f3f3f3;letter-spacing:0.409px;;transform:scaleX(1.0187);transform-origin:0 0">Company Information</span>
<span class="t" style="left:175.45550847457628px;top:1124.02px;font-size:42.5px;color:#f3f3f3;letter-spacing:0.431px;;transform:scaleX(1.0148);transform-origin:0 0">Usage</span>
<span class="t" style="left:176.44666666666666px;top:1720.02px;font-size:42.5px;color:#f3f3f3;letter-spacing:0.557px;;transform:scaleX(1.0267);transform-origin:0 0">Settings</span>
<span class="t" style="left:176.48076923076923px;top:1864.02px;font-size:42.5px;color:#f3f3f3;letter-spacing:0.248px;;transform:scaleX(1.0096);transform-origin:0 0">Search</span>
<span class="t" style="left:74.24690721649485px;top:2016.20px;font-size:31.3px;color:#ffffff;letter-spacing:0.978px;;transform:scaleX(1.0531);transform-origin:0 0">Tokens</span>
<span class="t" style="left:517.2441558441559px;top:2016.11px;font-size:32px;color:#ffffff;;transform:scaleX(1.1779);transform-origin:0 0">20/80</span>
<span class="t" style="left:188.34359861591696px;top:2171.27px;font-size:41.5px;color:#ffffff;letter-spacing:0.721px;-webkit-text-stroke:0.4px #fff;transform:scaleX(1.0282);transform-origin:0 0">Company name</span>
<span class="t" style="left:187.63154362416105px;top:2220.39px;font-size:32.5px;color:#c0c9c7;letter-spacing:0.616px;;transform:scaleX(1.0342);transform-origin:0 0">krish@company.com</span>
<span class="t" style="left:845.7957957957958px;top:132.29px;font-size:41px;color:#555555;letter-spacing:0.951px;;transform:scaleX(1.0511);transform-origin:0 0">Invoice processing</span>
<span class="t" style="left:843.8255250403877px;top:239.21px;font-size:75px;color:#0e1614;letter-spacing:1.029px;-webkit-text-stroke:1.1px #0e1614;transform:scaleX(1.0291);transform-origin:0 0">Invoice Processing</span>
<span class="t" style="left:854.921052631579px;top:367.24px;font-size:55px;color:#111111;letter-spacing:1.237px;-webkit-text-stroke:0.6px #111;transform:scaleX(1.0395);transform-origin:0 0">Overview</span>
<span class="t" style="left:1266.7692307692307px;top:367.24px;font-size:55px;color:#454545;letter-spacing:1.229px;;transform:scaleX(1.0462);transform-origin:0 0">Invoices</span>
<span class="t" style="left:1649.8181818181818px;top:367.24px;font-size:55px;color:#454545;letter-spacing:1.355px;;transform:scaleX(1.0455);transform-origin:0 0">Reports</span>
<span class="t" style="left:2940.9184782608695px;top:264.79px;font-size:41px;color:#0b2e2a;letter-spacing:0.541px;-webkit-text-stroke:0.5px #0b2e2a;transform:scaleX(1.0272);transform-origin:0 0">Link Email</span>
<span class="t" style="left:3353.851711026616px;top:262.42px;font-size:40.5px;color:#ffffff;letter-spacing:0.953px;-webkit-text-stroke:0.5px #fff;transform:scaleX(1.0494);transform-origin:0 0">Upload Invoice</span>
<span class="t" style="left:874.5234741784037px;top:570.18px;font-size:30.5px;color:#3b3b3b;;transform:scaleX(0.9765);transform-origin:0 0">TOTAL INVOICE PROCESSED</span>
<span class="t" style="left:881.4903409090908px;top:634.94px;font-size:83px;color:#1c1c1c;font-weight:700;;transform:scaleX(1.0619);transform-origin:0 0">1587</span>
<span class="t" style="left:1138.7355932203388px;top:674.88px;font-size:22px;color:#4f4f4f;-webkit-text-stroke:0.25px #4f4f4f;transform:scaleX(0.8644);transform-origin:0 0">11.2%</span>
<span class="t" style="left:884.1181818181818px;top:786.22px;font-size:40.5px;color:#1c1c1c;font-weight:700;;transform:scaleX(1.1409);transform-origin:0 0">+367</span>
<span class="t" style="left:1006.4px;top:785.79px;font-size:41px;color:#444444;letter-spacing:0.723px;;transform:scaleX(1.0375);transform-origin:0 0">from last month</span>
<span class="t" style="left:1611.8234741784038px;top:570.18px;font-size:30.5px;color:#3b3b3b;;transform:scaleX(0.9765);transform-origin:0 0">TOTAL INVOICE PROCESSED</span>
<span class="t" style="left:1618.790340909091px;top:634.94px;font-size:83px;color:#1c1c1c;font-weight:700;;transform:scaleX(1.0619);transform-origin:0 0">1587</span>
<span class="t" style="left:1876.0355932203388px;top:674.88px;font-size:22px;color:#4f4f4f;-webkit-text-stroke:0.25px #4f4f4f;transform:scaleX(0.8644);transform-origin:0 0">11.2%</span>
<span class="t" style="left:1621.4181818181817px;top:786.22px;font-size:40.5px;color:#1c1c1c;font-weight:700;;transform:scaleX(1.1409);transform-origin:0 0">+367</span>
<span class="t" style="left:1743.6999999999998px;top:785.79px;font-size:41px;color:#444444;letter-spacing:0.723px;;transform:scaleX(1.0375);transform-origin:0 0">from last month</span>
<span class="t" style="left:2349.1234741784037px;top:570.18px;font-size:30.5px;color:#3b3b3b;;transform:scaleX(0.9765);transform-origin:0 0">TOTAL INVOICE PROCESSED</span>
<span class="t" style="left:2356.0903409090906px;top:634.94px;font-size:83px;color:#1c1c1c;font-weight:700;;transform:scaleX(1.0619);transform-origin:0 0">1587</span>
<span class="t" style="left:2613.335593220339px;top:674.88px;font-size:22px;color:#4f4f4f;-webkit-text-stroke:0.25px #4f4f4f;transform:scaleX(0.8644);transform-origin:0 0">11.2%</span>
<span class="t" style="left:2358.7181818181816px;top:786.22px;font-size:40.5px;color:#1c1c1c;font-weight:700;;transform:scaleX(1.1409);transform-origin:0 0">+367</span>
<span class="t" style="left:2481.0px;top:785.79px;font-size:41px;color:#444444;letter-spacing:0.723px;;transform:scaleX(1.0375);transform-origin:0 0">from last month</span>
<span class="t" style="left:3086.4234741784035px;top:570.18px;font-size:30.5px;color:#3b3b3b;;transform:scaleX(0.9765);transform-origin:0 0">TOTAL INVOICE PROCESSED</span>
<span class="t" style="left:3093.390340909091px;top:634.94px;font-size:83px;color:#1c1c1c;font-weight:700;;transform:scaleX(1.0619);transform-origin:0 0">1587</span>
<span class="t" style="left:3350.6355932203387px;top:674.88px;font-size:22px;color:#4f4f4f;-webkit-text-stroke:0.25px #4f4f4f;transform:scaleX(0.8644);transform-origin:0 0">11.2%</span>
<span class="t" style="left:3096.0181818181813px;top:786.22px;font-size:40.5px;color:#1c1c1c;font-weight:700;;transform:scaleX(1.1409);transform-origin:0 0">+367</span>
<span class="t" style="left:3218.2999999999997px;top:785.79px;font-size:41px;color:#444444;letter-spacing:0.723px;;transform:scaleX(1.0375);transform-origin:0 0">from last month</span>
<span class="t" style="left:875.858574610245px;top:972.80px;font-size:56px;color:#383838;letter-spacing:0.772px;;transform:scaleX(1.0283);transform-origin:0 0">Invoice Processed</span>
<span class="t" style="left:1686.5645833333333px;top:987.30px;font-size:28px;color:#2f524d;letter-spacing:0.418px;-webkit-text-stroke:0.3px #2f524d;transform:scaleX(1.0177);transform-origin:0 0">Day</span>
<span class="t" style="left:1788.2px;top:987.30px;font-size:28px;color:#7b8987;letter-spacing:0.166px;;transform:scaleX(1.0070);transform-origin:0 0">Week</span>
<span class="t" style="left:1907.283783783784px;top:987.30px;font-size:28px;color:#7b8987;letter-spacing:1.016px;;transform:scaleX(1.0581);transform-origin:0 0">Month</span>
<span class="t" style="left:-3077px;width:4000px;text-align:right;top:1109.73px;font-size:29.5px;color:#b3b7b7;">300</span>
<span class="t" style="left:-3077px;width:4000px;text-align:right;top:1195.03px;font-size:29.5px;color:#b3b7b7;">200</span>
<span class="t" style="left:-3077px;width:4000px;text-align:right;top:1282.33px;font-size:29.5px;color:#b3b7b7;">100</span>
<span class="t" style="left:-3077px;width:4000px;text-align:right;top:1367.73px;font-size:29.5px;color:#b3b7b7;">0</span>
<span class="t" style="left:971.6082191780822px;top:1414.30px;font-size:28px;color:#b3b7b7;letter-spacing:0.801px;;transform:scaleX(1.0459);transform-origin:0 0">May 5</span>
<span class="t" style="left:1124.4082191780822px;top:1414.30px;font-size:28px;color:#b3b7b7;letter-spacing:0.801px;;transform:scaleX(1.0459);transform-origin:0 0">May 6</span>
<span class="t" style="left:1278.6082191780822px;top:1414.30px;font-size:28px;color:#b3b7b7;letter-spacing:0.801px;;transform:scaleX(1.0459);transform-origin:0 0">May 7</span>
<span class="t" style="left:1429.2082191780821px;top:1414.30px;font-size:28px;color:#b3b7b7;letter-spacing:0.801px;;transform:scaleX(1.0459);transform-origin:0 0">May 8</span>
<span class="t" style="left:1582.4082191780822px;top:1414.30px;font-size:28px;color:#b3b7b7;letter-spacing:0.801px;;transform:scaleX(1.0459);transform-origin:0 0">May 9</span>
<span class="t" style="left:1730.379775280899px;top:1414.30px;font-size:28px;color:#b3b7b7;letter-spacing:0.178px;;transform:scaleX(1.0101);transform-origin:0 0">May 10</span>
<span class="t" style="left:1883.6229885057471px;top:1414.30px;font-size:28px;color:#b3b7b7;;transform:scaleX(0.9885);transform-origin:0 0">May 11</span>
<span class="t" style="left:1351.7630136986302px;top:1150.43px;font-size:45.8px;color:#0d0d0d;font-weight:700;;transform:scaleX(1.0685);transform-origin:0 0">276</span>
<span class="t" style="left:1353.0397260273971px;top:1208.73px;font-size:28.2px;color:#f6f7f7;letter-spacing:0.534px;;transform:scaleX(1.0301);transform-origin:0 0">May 7</span>
<span class="t" style="left:2186.62578125px;top:971.84px;font-size:46.5px;color:#333333;letter-spacing:0.916px;;transform:scaleX(1.0371);transform-origin:0 0">Status</span>
<span class="t" style="left:2420.7315789473687px;top:1176.77px;font-size:28.5px;color:#8d9494;letter-spacing:0.913px;;transform:scaleX(1.0684);transform-origin:0 0">Total</span>
<span class="t" style="left:2375.5565517241375px;top:1204.59px;font-size:60.5px;color:#0b2e2a;font-weight:700;;transform:scaleX(1.0359);transform-origin:0 0">1,323</span>
<span class="t" style="left:2242.7395348837213px;top:1434.70px;font-size:28px;color:#7b8585;letter-spacing:0.473px;;transform:scaleX(1.0302);transform-origin:0 0">Processed</span>
<span class="t" style="left:2443.942682926829px;top:1434.70px;font-size:28px;color:#7b8585;letter-spacing:0.457px;;transform:scaleX(1.0287);transform-origin:0 0">Flaged</span>
<span class="t" style="left:2603.6383838383836px;top:1434.70px;font-size:28px;color:#7b8585;letter-spacing:0.493px;;transform:scaleX(1.0308);transform-origin:0 0">Pending</span>
<span class="t" style="left:1003.0483870967741px;top:1638.89px;font-size:37.7px;color:#3b3b3b;;transform:scaleX(0.9839);transform-origin:0 0">DATE</span>
<span class="t" style="left:1518.8874371859297px;top:1638.89px;font-size:37.7px;color:#3b3b3b;;transform:scaleX(0.9709);transform-origin:0 0">INVOICE ID</span>
<span class="t" style="left:2064.0502369668247px;top:1638.89px;font-size:37.7px;color:#3b3b3b;;transform:scaleX(0.9749);transform-origin:0 0">CUSTOMER</span>
<span class="t" style="left:2652.7057142857143px;top:1638.89px;font-size:37.7px;color:#3b3b3b;;transform:scaleX(0.9971);transform-origin:0 0">STATUS</span>
<span class="t" style="left:3151.0px;top:1638.89px;font-size:37.7px;color:#3b3b3b;letter-spacing:0.050px;;transform:scaleX(1.0015);transform-origin:0 0">AMOUNT</span>
<span class="t" style="left:1005.4636597938145px;top:1786.03px;font-size:36px;color:#1a1a1a;letter-spacing:0.232px;;transform:scaleX(1.0121);transform-origin:0 0">1 June 2025</span>
<span class="t" style="left:1520.6377659574468px;top:1786.03px;font-size:36px;color:#1a1a1a;letter-spacing:0.425px;;transform:scaleX(1.0207);transform-origin:0 0">IXD-123456</span>
<span class="t" style="left:2076.0px;top:1786.03px;font-size:36px;color:#1a1a1a;;transform:scaleX(0.9452);transform-origin:0 0">ABC DEF LTD</span>
<span class="t" style="left:3187.818181818182px;top:1785.53px;font-size:36px;color:#1a1a1a;;transform:scaleX(1.0909);transform-origin:0 0">7999</span>
<span class="t" style="left:1005.4636597938145px;top:1948.03px;font-size:36px;color:#1a1a1a;letter-spacing:0.232px;;transform:scaleX(1.0121);transform-origin:0 0">1 June 2025</span>
<span class="t" style="left:1520.6377659574468px;top:1948.03px;font-size:36px;color:#1a1a1a;letter-spacing:0.425px;;transform:scaleX(1.0207);transform-origin:0 0">IXD-123456</span>
<span class="t" style="left:2076.0px;top:1948.03px;font-size:36px;color:#1a1a1a;;transform:scaleX(0.9452);transform-origin:0 0">ABC DEF LTD</span>
<span class="t" style="left:3187.818181818182px;top:1947.53px;font-size:36px;color:#1a1a1a;;transform:scaleX(1.0909);transform-origin:0 0">7999</span>
<span class="t" style="left:1005.4636597938145px;top:2109.53px;font-size:36px;color:#1a1a1a;letter-spacing:0.232px;;transform:scaleX(1.0121);transform-origin:0 0">1 June 2025</span>
<span class="t" style="left:1520.6377659574468px;top:2109.53px;font-size:36px;color:#1a1a1a;letter-spacing:0.425px;;transform:scaleX(1.0207);transform-origin:0 0">IXD-123456</span>
<span class="t" style="left:2076.0px;top:2109.53px;font-size:36px;color:#1a1a1a;;transform:scaleX(0.9452);transform-origin:0 0">ABC DEF LTD</span>
<span class="t" style="left:3187.818181818182px;top:2109.03px;font-size:36px;color:#1a1a1a;;transform:scaleX(1.0909);transform-origin:0 0">7999</span>
<span class="t" style="left:2675.990303030303px;top:1795.37px;font-size:35px;color:#2f7b46;letter-spacing:0.100px;;transform:scaleX(1.0048);transform-origin:0 0">Completed</span>
<span class="t" style="left:2686.787804878049px;top:1957.37px;font-size:35px;color:#e08e3c;letter-spacing:0.083px;;transform:scaleX(1.0041);transform-origin:0 0">Pending</span>
<span class="t" style="left:2675.990303030303px;top:2102.37px;font-size:35px;color:#2f7b46;letter-spacing:0.100px;;transform:scaleX(1.0048);transform-origin:0 0">Completed</span>
</body></html>
